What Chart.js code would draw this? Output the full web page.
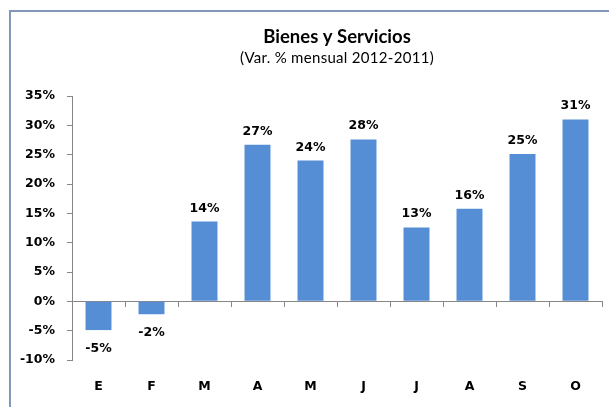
<!DOCTYPE html>
<html>
<head>
<meta charset="utf-8">
<script src="https://cdn.jsdelivr.net/npm/chart.js@4"></script>
<style>
  html, body { margin: 0; padding: 0; background: #fff; }
  #wrap { width: 609px; height: 407px; position: relative; }
</style>
</head>
<body>
<div id="wrap"><canvas id="bienes-chart_"></canvas></div>
<script>
const months = ['E', 'F', 'M', 'A', 'M', 'J', 'J', 'A', 'S', 'O'];
const variacion = [-4.9, -2.2, 13.6, 26.7, 24.0, 27.6, 12.6, 15.8, 25.1, 31.0];
const titulo = 'Bienes y Servicios';
const subtitulo = '(Var. % mensual 2012-2011)';

const tickFont = { family: 'DejaVu Sans', size: 12.5, weight: 'bold' };
const axisGray = '#868686';

// marco azul de la hoja (arriba e izquierda)
const frame = {
    id: 'frame',
    beforeDraw(chart) {
        const c = chart.ctx;
        c.save();
        c.strokeStyle = '#8198b8';
        c.lineWidth = 2;
        c.beginPath();
        c.moveTo(10, chart.height);
        c.lineTo(10, 11);
        c.lineTo(chart.width, 11);
        c.stroke();
        c.restore();
    }
};

// titulo centrado sobre el area del grafico
const titles = {
    id: 'titles',
    afterDraw(chart) {
        const c = chart.ctx;
        const a = chart.chartArea;
        const cx = (a.left + a.right) / 2;
        c.save();
        c.fillStyle = '#000';
        c.textAlign = 'center';
        c.textBaseline = 'alphabetic';
        c.font = 'bold 18.5px Lato';
        c.fillText(titulo, cx, 43);
        c.font = '15px Lato';
        c.letterSpacing = '0.3px';
        c.fillText(subtitulo, cx, 63);
        c.restore();
    }
};

// etiquetas de valor sobre / bajo las barras
const valueLabels = {
    id: 'valueLabels',
    afterDatasetsDraw(chart) {
        const c = chart.ctx;
        const meta = chart.getDatasetMeta(0);
        c.save();
        c.fillStyle = '#000';
        c.textAlign = 'center';
        c.font = 'bold 12.5px "DejaVu Sans"';
        meta.data.forEach((bar, i) => {
            const v = variacion[i];
            const txt = Math.round(v) + '%';
            if (v >= 0) {
                c.textBaseline = 'alphabetic';
                c.fillText(txt, bar.x, bar.y - 10);
            } else {
                c.textBaseline = 'top';
                c.fillText(txt, bar.x, bar.y + 12);
            }
        });
        c.restore();
    }
};

new Chart(document.getElementById('bienes-chart_'), {
    type: 'bar',
    data: {
        labels: months,
        datasets: [
            {
                data: variacion,
                backgroundColor: '#558ed5',
                borderWidth: 0,
                barPercentage: 0.49,
                categoryPercentage: 1,
            },
        ]
    },
    options: {
        responsive: true,
        maintainAspectRatio: false,
        animation: false,
        layout: {
            padding: { left: 0, top: 96, right: 7, bottom: 0 }
        },
        scales: {
            x: {
                grid: { display: false, drawTicks: false },
                border: { display: false },
                ticks: { color: '#000', font: tickFont, padding: 19 },
                afterFit(scale) { scale.height = 47; }
            },
            x0: {
                type: 'category',
                position: { y: 0 },
                grid: {
                    display: true,
                    drawOnChartArea: false,
                    drawTicks: true,
                    tickLength: 5,
                    color: axisGray,
                    offset: true
                },
                border: { display: true, color: axisGray },
                ticks: { display: false }
            },
            y: {
                min: -10,
                max: 35,
                ticks: {
                    stepSize: 5,
                    color: '#000',
                    font: tickFont,
                    padding: 12,
                    callback: (v) => v + '%'
                },
                grid: {
                    color: 'transparent',
                    tickColor: axisGray,
                    tickLength: 5
                },
                border: { display: true, color: axisGray },
                afterFit(scale) { scale.width = 72; }
            }
        },
        plugins: {
            legend: { display: false },
            tooltip: { enabled: false }
        }
    },
    plugins: [frame, titles, valueLabels]
});
</script>
</body>
</html>
